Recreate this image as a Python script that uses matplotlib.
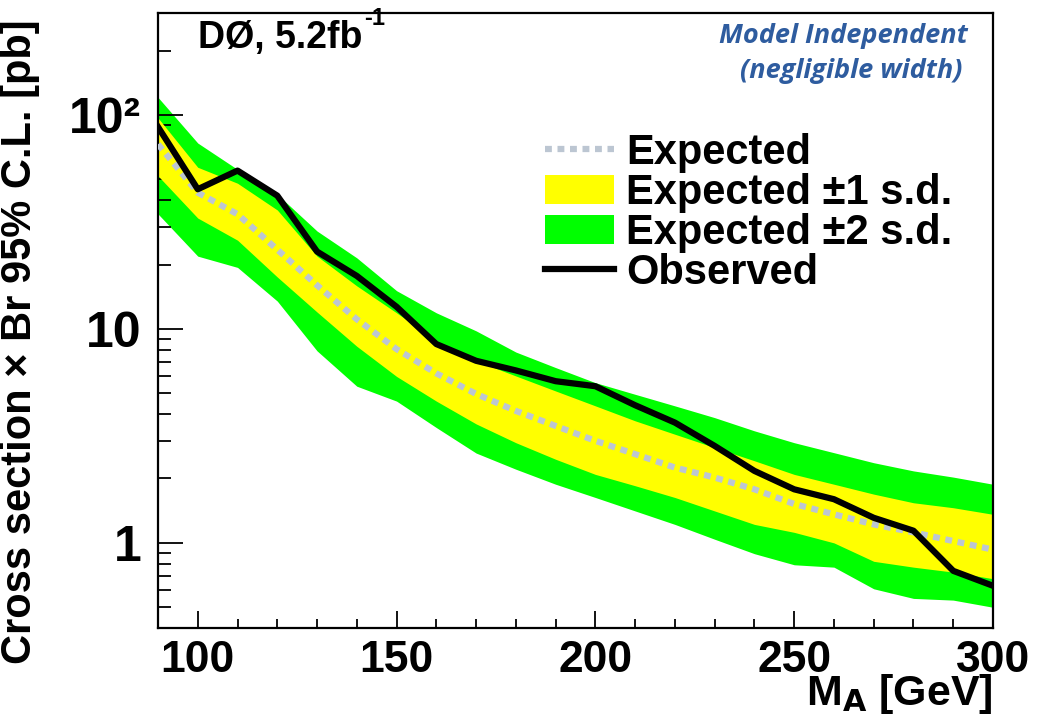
import matplotlib
matplotlib.use("Agg")
import matplotlib.pyplot as plt
from matplotlib.lines import Line2D
from matplotlib.patches import Patch
from matplotlib.ticker import FixedLocator, FixedFormatter, MultipleLocator, LogLocator, NullFormatter

# pseudoscalar mass M_A [GeV]
mass = [90, 100, 110, 120, 130, 140, 150, 160, 170, 180, 190,
        200, 210, 220, 230, 240, 250, 260, 270, 280, 290, 300]

# 95% C.L. limits on cross section x Br [pb]
observed = [88, 45, 55, 42, 23, 17.7, 12.7, 8.5, 7.1, 6.4, 5.7,
            5.4, 4.4, 3.65, 2.84, 2.17, 1.78, 1.6, 1.31, 1.14, 0.74, 0.63]
expected = [73, 43.4, 34.4, 23.5, 16.0, 11.1, 8.05, 6.2, 4.97, 4.14, 3.52,
            3.0, 2.6, 2.25, 2.02, 1.78, 1.52, 1.36, 1.22, 1.12, 1.02, 0.93]
sd1_up = [97, 57, 48, 36, 21.9, 15.9, 11.9, 8.8, 7.1, 6.03, 5.13,
          4.37, 3.72, 3.22, 2.79, 2.42, 2.09, 1.88, 1.69, 1.54, 1.46, 1.36]
sd1_dn = [52, 33, 26, 17.5, 12, 8.3, 6.0, 4.6, 3.6, 2.94, 2.46,
          2.09, 1.85, 1.63, 1.41, 1.22, 1.12, 1.0, 0.82, 0.77, 0.73, 0.68]
sd2_up = [121, 74, 55.7, 42.6, 28.7, 21.5, 15.1, 11.9, 9.8, 7.8, 6.6,
          5.61, 4.95, 4.37, 3.85, 3.34, 2.94, 2.64, 2.37, 2.17, 2.03, 1.88]
sd2_dn = [34.5, 21.9, 19.4, 13.5, 7.9, 5.4, 4.6, 3.46, 2.63, 2.21, 1.88,
          1.63, 1.41, 1.22, 1.04, 0.89, 0.79, 0.77, 0.61, 0.55, 0.54, 0.50]

ytick_vals = [1, 10, 100]
ytick_labels = ["1", "10", "10²"]
xtick_vals = [100, 150, 200, 250, 300]

plt.rcParams['font.family'] = ['Liberation Sans', 'DejaVu Sans']
plt.rcParams['font.weight'] = 'bold'

fig = plt.figure(figsize=(10.38, 7.24), dpi=100)
ax = fig.add_axes([158/1038, 1 - 628/724, 835/1038, 615/724])

green = '#00ff00'
yellow = '#ffff00'
exp_col = '#bcc6d2'

ax.fill_between(mass, sd2_dn, sd2_up, color=green, lw=0, zorder=1)
ax.fill_between(mass, sd1_dn, sd1_up, color=yellow, lw=0, zorder=2)
ax.plot(mass, expected, color=exp_col, lw=4.5, ls=(0, (1.1, 0.9)), zorder=3)
ax.plot(mass, observed, color='black', lw=4.5, zorder=4)

ax.set_yscale('log')
ax.set_xlim(90, 300)
ax.set_ylim(0.4, 300)

ax.yaxis.set_major_locator(FixedLocator(ytick_vals))
ax.yaxis.set_major_formatter(FixedFormatter(ytick_labels))
ax.yaxis.set_minor_locator(LogLocator(base=10, subs=range(2, 10)))
ax.yaxis.set_minor_formatter(NullFormatter())
ax.xaxis.set_major_locator(FixedLocator(xtick_vals))
ax.xaxis.set_minor_locator(MultipleLocator(10))

ax.yaxis.set_tick_params(which='major', direction='in', length=18, width=1.3, labelsize=36, pad=12)
ax.yaxis.set_tick_params(which='minor', direction='in', length=9.5, width=1.3)
ax.xaxis.set_tick_params(which='major', direction='in', length=12, width=1.3, labelsize=32, pad=9)
ax.xaxis.set_tick_params(which='minor', direction='in', length=6.5, width=1.3)
ax.tick_params(top=False, right=False, which='both')

for s in ax.spines.values():
    s.set_linewidth(1.6)

ax.set_ylabel("Cross section × Br 95% C.L. [pb]", fontsize=30, fontweight='bold')
ax.yaxis.set_label_coords(-0.141, 0.465)
ax.set_xlabel("M$_\\mathbf{A}$ [GeV]", fontsize=31, fontweight='bold', ha='right')
ax.xaxis.set_label_coords(1.0, -0.072)

title = ax.text(0.048, 0.96, "DØ, 5.2fb", transform=ax.transAxes,
                fontsize=27, fontweight='bold', va='center', ha='left')
ax.annotate("-1", xy=(1, 0.72), xycoords=title, xytext=(1, 0), textcoords='offset points',
            fontsize=17, fontweight='bold', va='bottom', ha='left')

ax.text(0.97, 0.963, "Model Independent", transform=ax.transAxes, ha='right', va='center',
        fontsize=19.5, family='Open Sans', style='italic', weight='bold', color='#2e5c9f')
ax.text(0.964, 0.905, "(negligible width)", transform=ax.transAxes, ha='right', va='center',
        fontsize=19.5, family='Open Sans', style='italic', weight='bold', color='#2e5c9f')

handles = [
    Line2D([], [], color=exp_col, lw=4.5, ls=(0, (1.1, 0.9))),
    Patch(facecolor=yellow, edgecolor='none'),
    Patch(facecolor=green, edgecolor='none'),
    Line2D([], [], color='black', lw=4.5),
]
labels = ["Expected", "Expected ±1 s.d.", "Expected ±2 s.d.", "Observed"]
ax.legend(handles, labels, loc='upper left', bbox_to_anchor=(0.4635, 0.805),
          frameon=False, borderpad=0, borderaxespad=0,
          handlelength=1.65, handleheight=0.72, handletextpad=0.3, labelspacing=0.0,
          prop={'weight': 'bold', 'size': 30})

fig.savefig("out.png", dpi=100)
